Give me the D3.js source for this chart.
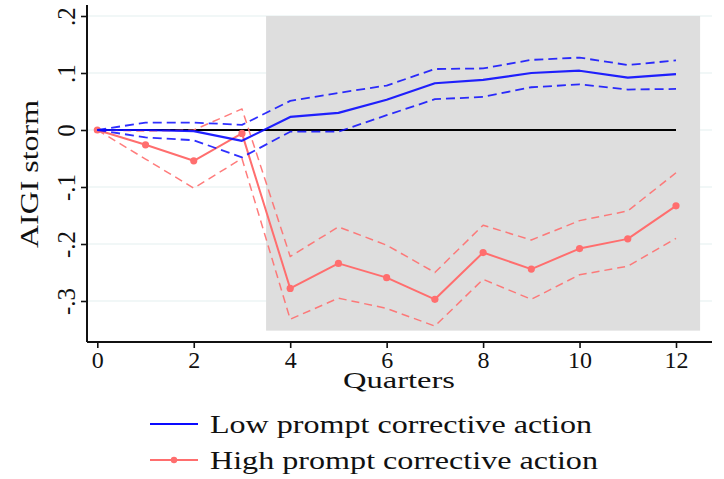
<!DOCTYPE html>
<html>
<head>
<meta charset="utf-8">
<script src="https://cdn.jsdelivr.net/npm/d3@7"></script>
<style>
  html, body { margin: 0; padding: 0; background: #fff; }
  svg { display: block; }
  text { font-family: "Liberation Serif", "DejaVu Serif", serif; fill: #111; }
</style>
</head>
<body>
<svg id="chart" width="724" height="479"></svg>
<script>
// ---- Data ----
const quarters = [0, 1, 2, 3, 4, 5, 6, 7, 8, 9, 10, 11, 12];
const lowEst   = [0, 0.000, -0.002, -0.019, 0.023, 0.030, 0.053, 0.082, 0.088, 0.100, 0.104, 0.092, 0.098];
const lowUpper = [0, 0.013, 0.013, 0.009, 0.051, 0.065, 0.078, 0.107, 0.108, 0.123, 0.127, 0.114, 0.122];
const lowLower = [0, -0.013, -0.018, -0.048, -0.003, -0.003, 0.026, 0.054, 0.058, 0.075, 0.080, 0.071, 0.072];
const highEst   = [0, -0.026, -0.054, -0.006, -0.278, -0.234, -0.259, -0.297, -0.215, -0.244, -0.208, -0.191, -0.133];
const highUpper = [0, -0.002, 0.000, 0.037, -0.222, -0.170, -0.202, -0.250, -0.167, -0.193, -0.159, -0.142, -0.075];
const highLower = [0, -0.051, -0.102, -0.050, -0.332, -0.295, -0.313, -0.344, -0.262, -0.297, -0.254, -0.239, -0.190];
const xTicks = [0, 2, 4, 6, 8, 10, 12];
const yTicks = [-0.3, -0.2, -0.1, 0, 0.1, 0.2];
const yTickLabels = ["-.3", "-.2", "-.1", "0", ".1", ".2"];
const shadeRange = [3.5, 12.5];
const shadeY = [0.2, -0.352];
const seriesNames = ["Low prompt corrective action", "High prompt corrective action"];
const xTitle = "Quarters";
const yTitle = "AIGI storm";

const BLUE = "#0a0aff";
const RED = "#ff6e6e";

// ---- Layout ----
const svg = d3.select("#chart");
const plotLeft = 87, plotRight = 712, plotTop = 5, plotBottom = 342;

const x = d3.scaleLinear().domain([0, 12]).range([97.3, 676]);
const y = d3.scaleLinear().domain([-0.3, 0.2]).range([301, 16]);

// grid lines
svg.append("g").selectAll("line").data(yTicks).join("line")
  .attr("x1", plotLeft).attr("x2", plotRight)
  .attr("y1", d => y(d)).attr("y2", d => y(d))
  .attr("stroke", "#e4eff0").attr("stroke-width", 1.2);

// shaded region
svg.append("rect")
  .attr("x", x(shadeRange[0])).attr("width", x(shadeRange[1]) - x(shadeRange[0]))
  .attr("y", y(shadeY[0])).attr("height", y(shadeY[1]) - y(shadeY[0]))
  .attr("fill", "#dedede");

// zero line
svg.append("line")
  .attr("x1", x(0)).attr("x2", x(12)).attr("y1", y(0)).attr("y2", y(0))
  .attr("stroke", "#000").attr("stroke-width", 2);

const line = d3.line().x((d, i) => x(quarters[i])).y(d => y(d));

function drawLine(data, color, width, dash, opacity) {
  svg.append("path").datum(data)
    .attr("d", line)
    .attr("fill", "none")
    .attr("stroke", color)
    .attr("stroke-width", width)
    .attr("stroke-dasharray", dash || null)
    .attr("stroke-opacity", opacity || 1)
    .attr("stroke-linejoin", "round");
}

// High series (red)
drawLine(highUpper, RED, 1.5, "8,5", 0.9);
drawLine(highLower, RED, 1.5, "8,5", 0.9);
drawLine(highEst, RED, 2);
svg.append("g").selectAll("circle").data(highEst).join("circle")
  .attr("cx", (d, i) => x(quarters[i])).attr("cy", d => y(d))
  .attr("r", 3.6).attr("fill", RED);

// Low series (blue)
drawLine(lowUpper, BLUE, 1.8, "9,5", 0.85);
drawLine(lowLower, BLUE, 1.8, "9,5", 0.85);
drawLine(lowEst, BLUE, 2.2, null, 0.9);

// axes
const xAxis = d3.axisBottom(x).tickValues(xTicks).tickSize(6).tickSizeOuter(0).tickFormat(d3.format("d"));
const gx = svg.append("g").attr("transform", `translate(0,${plotBottom})`).call(xAxis);
gx.select(".domain").remove();
gx.selectAll(".tick line").attr("stroke", "#111").attr("stroke-width", 1.6);
gx.selectAll(".tick text").attr("font-size", 24).attr("font-family", "Liberation Serif, serif")
  .attr("fill", "#111").attr("y", 6).attr("dy", "0.85em");
svg.append("line").attr("x1", plotLeft).attr("x2", plotRight).attr("y1", plotBottom).attr("y2", plotBottom)
  .attr("stroke", "#111").attr("stroke-width", 2);

const yAxis = d3.axisLeft(y).tickValues(yTicks).tickSize(6).tickSizeOuter(0)
  .tickFormat((d, i) => yTickLabels[i]);
const gy = svg.append("g").attr("transform", `translate(${plotLeft},0)`).call(yAxis);
gy.select(".domain").remove();
gy.selectAll(".tick line").attr("stroke", "#111").attr("stroke-width", 1.6);
gy.selectAll(".tick text")
  .attr("font-size", 25).attr("font-family", "Liberation Serif, serif").attr("fill", "#111")
  .attr("x", null).attr("dy", null)
  .attr("text-anchor", "middle")
  .attr("transform", "translate(-12,0) rotate(-90)");
svg.append("line").attr("x1", plotLeft).attr("x2", plotLeft).attr("y1", plotTop).attr("y2", plotBottom)
  .attr("stroke", "#111").attr("stroke-width", 2);

// axis titles
svg.append("text").attr("x", 399).attr("y", 388).attr("text-anchor", "middle")
  .attr("font-size", 24).attr("textLength", 112).attr("lengthAdjust", "spacingAndGlyphs").text(xTitle);
svg.append("text").attr("transform", "translate(38,174) rotate(-90)").attr("text-anchor", "middle")
  .attr("font-size", 25).attr("textLength", 148).attr("lengthAdjust", "spacingAndGlyphs").text(yTitle);

// legend
const legendRows = [
  { name: seriesNames[0], color: BLUE, y: 424, marker: false, w: 382 },
  { name: seriesNames[1], color: RED, y: 460, marker: true, w: 388 }
];
legendRows.forEach(r => {
  svg.append("line").attr("x1", 150).attr("x2", 198).attr("y1", r.y).attr("y2", r.y)
    .attr("stroke", r.color).attr("stroke-width", 2);
  if (r.marker) svg.append("circle").attr("cx", 174).attr("cy", r.y).attr("r", 3.2).attr("fill", r.color);
  svg.append("text").attr("x", 210).attr("y", r.y + 9).attr("font-size", 26)
    .attr("textLength", r.w).attr("lengthAdjust", "spacingAndGlyphs").text(r.name);
});
</script>
</body>
</html>
